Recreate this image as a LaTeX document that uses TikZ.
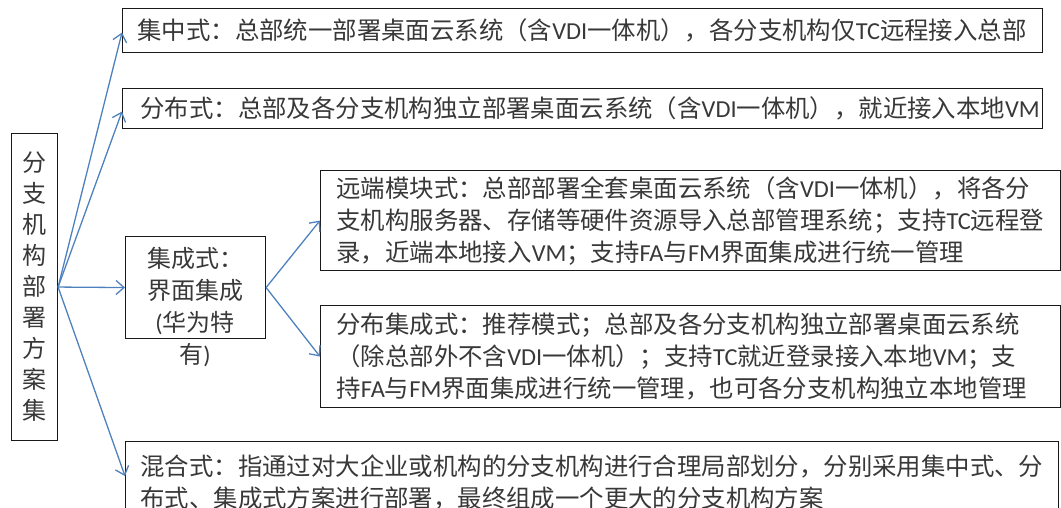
\documentclass[tikz,border=0pt]{standalone}
\usepackage{fontspec}
\setmainfont{Noto Sans CJK SC}
\newfontfamily\latf{Carlito}
\usetikzlibrary{arrows.meta}
\newcommand\ltn[1]{{\latf #1}}
\definecolor{arrowblue}{HTML}{4F81BD}
\definecolor{txtgray}{HTML}{383838}
\begin{document}
\begin{tikzpicture}[x=1pt,y=-1pt,
  rectbox/.style={draw=black!90, line width=1.1pt, inner sep=0pt, anchor=north west},
  textbox/.style={rectbox, align=left, inner xsep=15pt, inner ysep=0pt, text=txtgray,
    font=\fontsize{24.4}{32}\selectfont},
  conn/.style={draw=arrowblue, line width=1.3pt, -{Straight Barb[length=8pt,width=14pt]}}
  ]
\useasboundingbox (0,0) rectangle (1061,508);

\node[rectbox, minimum width=46pt, minimum height=307pt, align=center, text=txtgray,
  font=\fontsize{24}{31}\selectfont] (L) at (11,133)
  {分\\支\\机\\构\\部\\署\\方\\案\\集};

\node[textbox, minimum width=920pt, minimum height=44pt, text width=890pt] (b1) at (122,8)
  {集中式：总部统一部署桌面云系统（含\ltn{VDI}一体机），各分支机构仅\ltn{TC}远程接入总部};

\node[textbox, minimum width=920pt, minimum height=40pt, text width=884pt, inner xsep=18pt] (b2) at (122,88)
  {分布式：总部及各分支机构独立部署桌面云系统（含\ltn{VDI}一体机），就近接入本地\ltn{VM}};

\node[rectbox, minimum width=140pt, minimum height=102pt] (jc) at (125,236) {};
\node[align=center, text=txtgray, font=\fontsize{24}{32}\selectfont] (jct) at (195,307)
  {集成式：\\界面集成\\\ltn{(}华为特\\有\ltn{)}};

\node[textbox, minimum width=740pt, minimum height=100pt, text width=708pt, inner xsep=16pt] (y1) at (320,170)
  {远端模块式：总部部署全套桌面云系统（含\ltn{VDI}一体机），将各分\\
   支机构服务器、存储等硬件资源导入总部管理系统；支持\ltn{TC}远程登\\
   录，近端本地接入\ltn{VM}；支持\ltn{FA}与\ltn{FM}界面集成进行统一管理};

\node[textbox, minimum width=740pt, minimum height=102pt, text width=708pt, inner xsep=16pt] (y2) at (320,305)
  {分布集成式：推荐模式；总部及各分支机构独立部署桌面云系统\\
   （除总部外不含\ltn{VDI}一体机）；支持\ltn{TC}就近登录接入本地\ltn{VM}；支\\
   持\ltn{FA}与\ltn{FM}界面集成进行统一管理，也可各分支机构独立本地管理};

\node[textbox, minimum width=933pt, minimum height=81pt, text width=903pt] (b5) at (125,441)
  {混合式：指通过对大企业或机构的分支机构进行合理局部划分，分别采用集中式、分\\
   布式、集成式方案进行部署，最终组成一个更大的分支机构方案};

\draw[conn] (L.east) -- ([yshift=-2pt]b1.west);
\draw[conn] (L.east) -- ([yshift=-3pt]b2.west);
\draw[conn] (L.east) -- (jc.west);
\draw[conn] (L.east) -- ([yshift=6pt]b5.west);
\draw[conn] (jc.east) -- (y1.west);
\draw[conn] (jc.east) -- (y2.west);
\end{tikzpicture}
\end{document}
